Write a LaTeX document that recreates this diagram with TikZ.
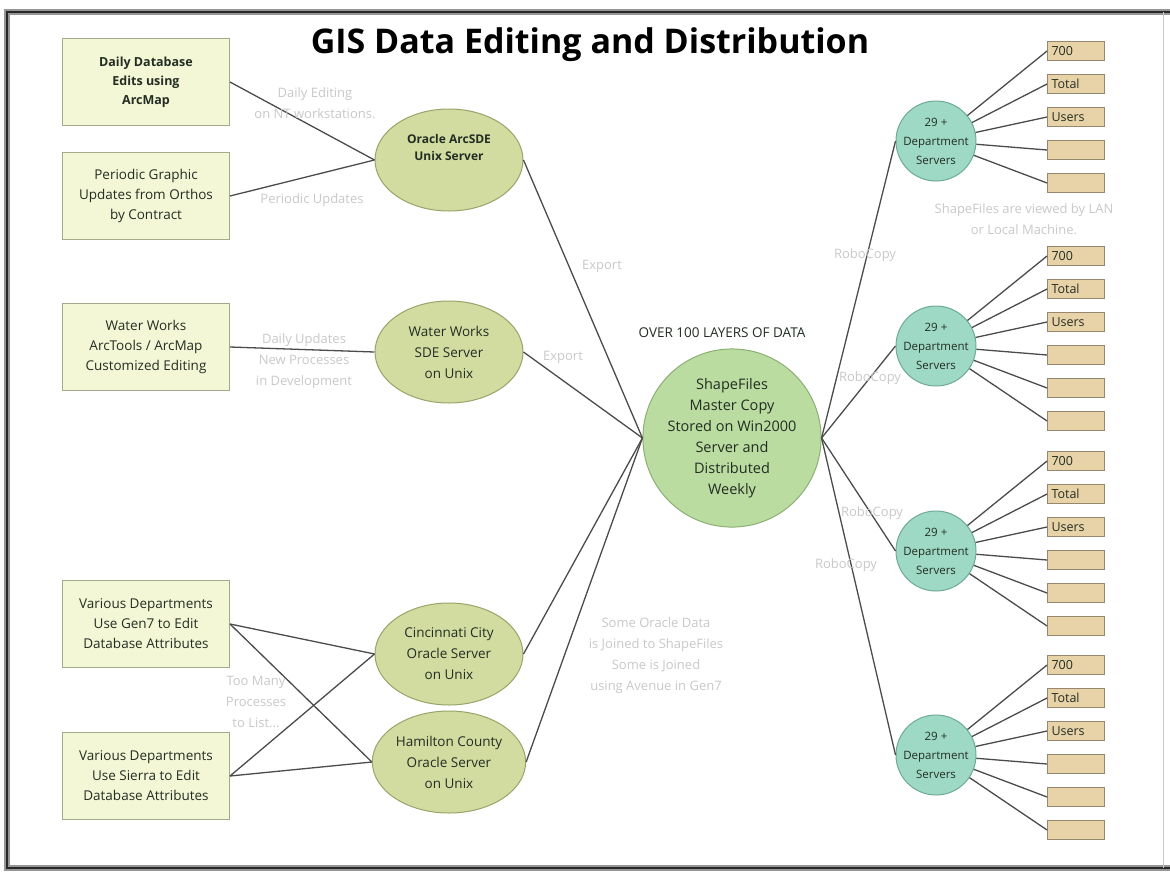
\documentclass[tikz,border=0pt]{standalone}
\usepackage{fontspec}
\setmainfont{Open Sans}
\usetikzlibrary{shapes.geometric}

\definecolor{srcfill}{RGB}{244,247,214}
\definecolor{srcline}{RGB}{165,170,140}
\definecolor{sdefill}{RGB}{211,220,160}
\definecolor{sdeline}{RGB}{150,165,105}
\definecolor{masterfill}{RGB}{186,220,160}
\definecolor{masterline}{RGB}{140,175,115}
\definecolor{deptfill}{RGB}{158,217,197}
\definecolor{deptline}{RGB}{110,170,150}
\definecolor{seatfill}{RGB}{232,211,168}
\definecolor{seatline}{RGB}{150,135,110}
\definecolor{linkgray}{RGB}{75,75,75}
\definecolor{notegray}{RGB}{200,200,200}
\definecolor{inkdark}{RGB}{35,45,35}
\definecolor{framedark}{RGB}{40,40,40}
\definecolor{frameshade}{RGB}{150,150,150}

\begin{document}
\begin{tikzpicture}[x=1pt,y=-1pt,
  src/.style={draw=srcline, fill=srcfill, line width=1pt, minimum width=167pt,
    minimum height=87pt, align=center, text=inkdark,
    font=\fontsize{13.5}{20}\selectfont},
  sde/.style={ellipse, draw=sdeline, fill=sdefill, line width=1pt,
    minimum width=148pt, minimum height=102pt, inner sep=1pt, align=center,
    text=inkdark, font=\fontsize{13.5}{21}\selectfont},
  master/.style={circle, draw=masterline, fill=masterfill, line width=1pt,
    minimum size=168pt, inner sep=1pt, align=center, text=inkdark,
    font=\fontsize{14.5}{21}\selectfont},
  dept/.style={circle, draw=deptline, fill=deptfill, line width=1pt,
    minimum size=80pt, inner sep=0pt, align=center, text=inkdark,
    font=\fontsize{11.5}{19}\selectfont},
  seat/.style={draw=seatline, fill=seatfill, line width=0.9pt,
    minimum width=57pt, minimum height=19pt, text width=49pt, inner xsep=4pt,
    inner ysep=0pt, align=left, text=inkdark, font=\fontsize{12.5}{14}\selectfont},
  note/.style={text=notegray, align=center, font=\fontsize{13}{21}\selectfont},
  link/.style={draw=linkgray, line width=1.3pt}]

  \useasboundingbox (0,0) rectangle (1170,873);

  % frame
  \draw[frameshade, line width=6pt] (1170,12) -- (7,12) -- (7,868) -- (1170,868);
  \draw[framedark, line width=2.5pt] (1170,12) -- (7,12) -- (7,868) -- (1170,868);
  \draw[notegray, line width=1pt] (1163,12) -- (1163,868);

  \node[font=\bfseries\fontsize{34}{38}\selectfont] (title) at (590,45) {GIS Data Editing and Distribution};

  % sources on the left
  \node[src, font=\bfseries\fontsize{12.5}{19}\selectfont] (daily) at (146,82) {Daily Database\\Edits using\\ArcMap};
  \node[src] (ortho) at (146,196) {Periodic Graphic\\Updates from Orthos\\by Contract};
  \node[src] (wwtools) at (146,347) {Water Works\\ArcTools / ArcMap\\Customized Editing};
  \node[src] (gen7) at (146,624) {Various Departments\\Use Gen7 to Edit\\Database Attributes};
  \node[src] (sierra) at (146,776) {Various Departments\\Use Sierra to Edit\\Database Attributes};

  % sde servers
  \node[sde, font=\bfseries\fontsize{12}{17}\selectfont] (arcsde) at (449,160) {Oracle ArcSDE\\Unix Server\\[8pt]\mbox{}};
  \node[sde] (wwsde) at (449,352) {Water Works\\SDE Server\\on Unix};
  \node[sde] (cincy) at (449,654) {Cincinnati City\\Oracle Server\\on Unix};
  \node[sde] (hamilton) at (449,762) {Hamilton County\\Oracle Server\\on Unix};

  \node[master] (master) at (732,438) {ShapeFiles\\Master Copy\\Stored on Win2000\\Server and\\Distributed\\Weekly};
  \node[font=\fontsize{13.5}{16}\selectfont, text=inkdark] (layers) at (722,333) {OVER 100 LAYERS OF DATA};

  \draw[link] (daily.east) -- (arcsde.west);
  \draw[link] (ortho.east) -- (arcsde.west);
  \draw[link] (wwtools.east) -- (wwsde.west);
  \draw[link] (gen7.east) -- (cincy.west);
  \draw[link] (gen7.east) -- (hamilton.west);
  \draw[link] (sierra.east) -- (cincy.west);
  \draw[link] (sierra.east) -- (hamilton.west);
  \foreach \s in {arcsde, wwsde, cincy, hamilton}
    \draw[link] (\s.east) -- (master.west);

  % department servers and their seats
  \foreach \k/\yy/\n in {1/51/5, 2/256/6, 3/461/6, 4/665/6} {
    \node[dept] (dept\k) at (936,\yy+90) {29 +\\Department\\Servers};
    \draw[link] (master.east) -- (dept\k.west);
    \foreach \i in {1,...,\n} {
      \node[seat] (seat\k-\i) at (1076,\yy+33*\i-33) {\ifcase\i\or 700\or Total\or Users\fi};
      \draw[link] (dept\k) -- (seat\k-\i.west);
    }
  }

  % grey notes
  \node[note] (editnote) at (315,103) {Daily Editing\\on NT workstations.};
  \node[note] (updnote) at (312,200) {Periodic Updates};
  \node[note] (wwnote) at (304,361) {Daily Updates\\New Processes\\in Development};
  \node[note] (export1) at (602,266) {Export};
  \node[note] (export2) at (563,357) {Export};
  \node[note] (manynote) at (256,702) {Too Many\\Processes\\to List...};
  \node[note] (joinnote) at (656,656) {Some Oracle Data\\is Joined to ShapeFiles\\Some is Joined\\using Avenue in Gen7};
  \node[note] (robo1) at (865,255) {RoboCopy};
  \node[note] (robo2) at (870,378) {RoboCopy};
  \node[note] (robo3) at (872,513) {RoboCopy};
  \node[note] (robo4) at (846,565) {RoboCopy};
  \node[note] (lannote) at (1024,219) {ShapeFiles are viewed by LAN\\or Local Machine.};
\end{tikzpicture}
\end{document}
